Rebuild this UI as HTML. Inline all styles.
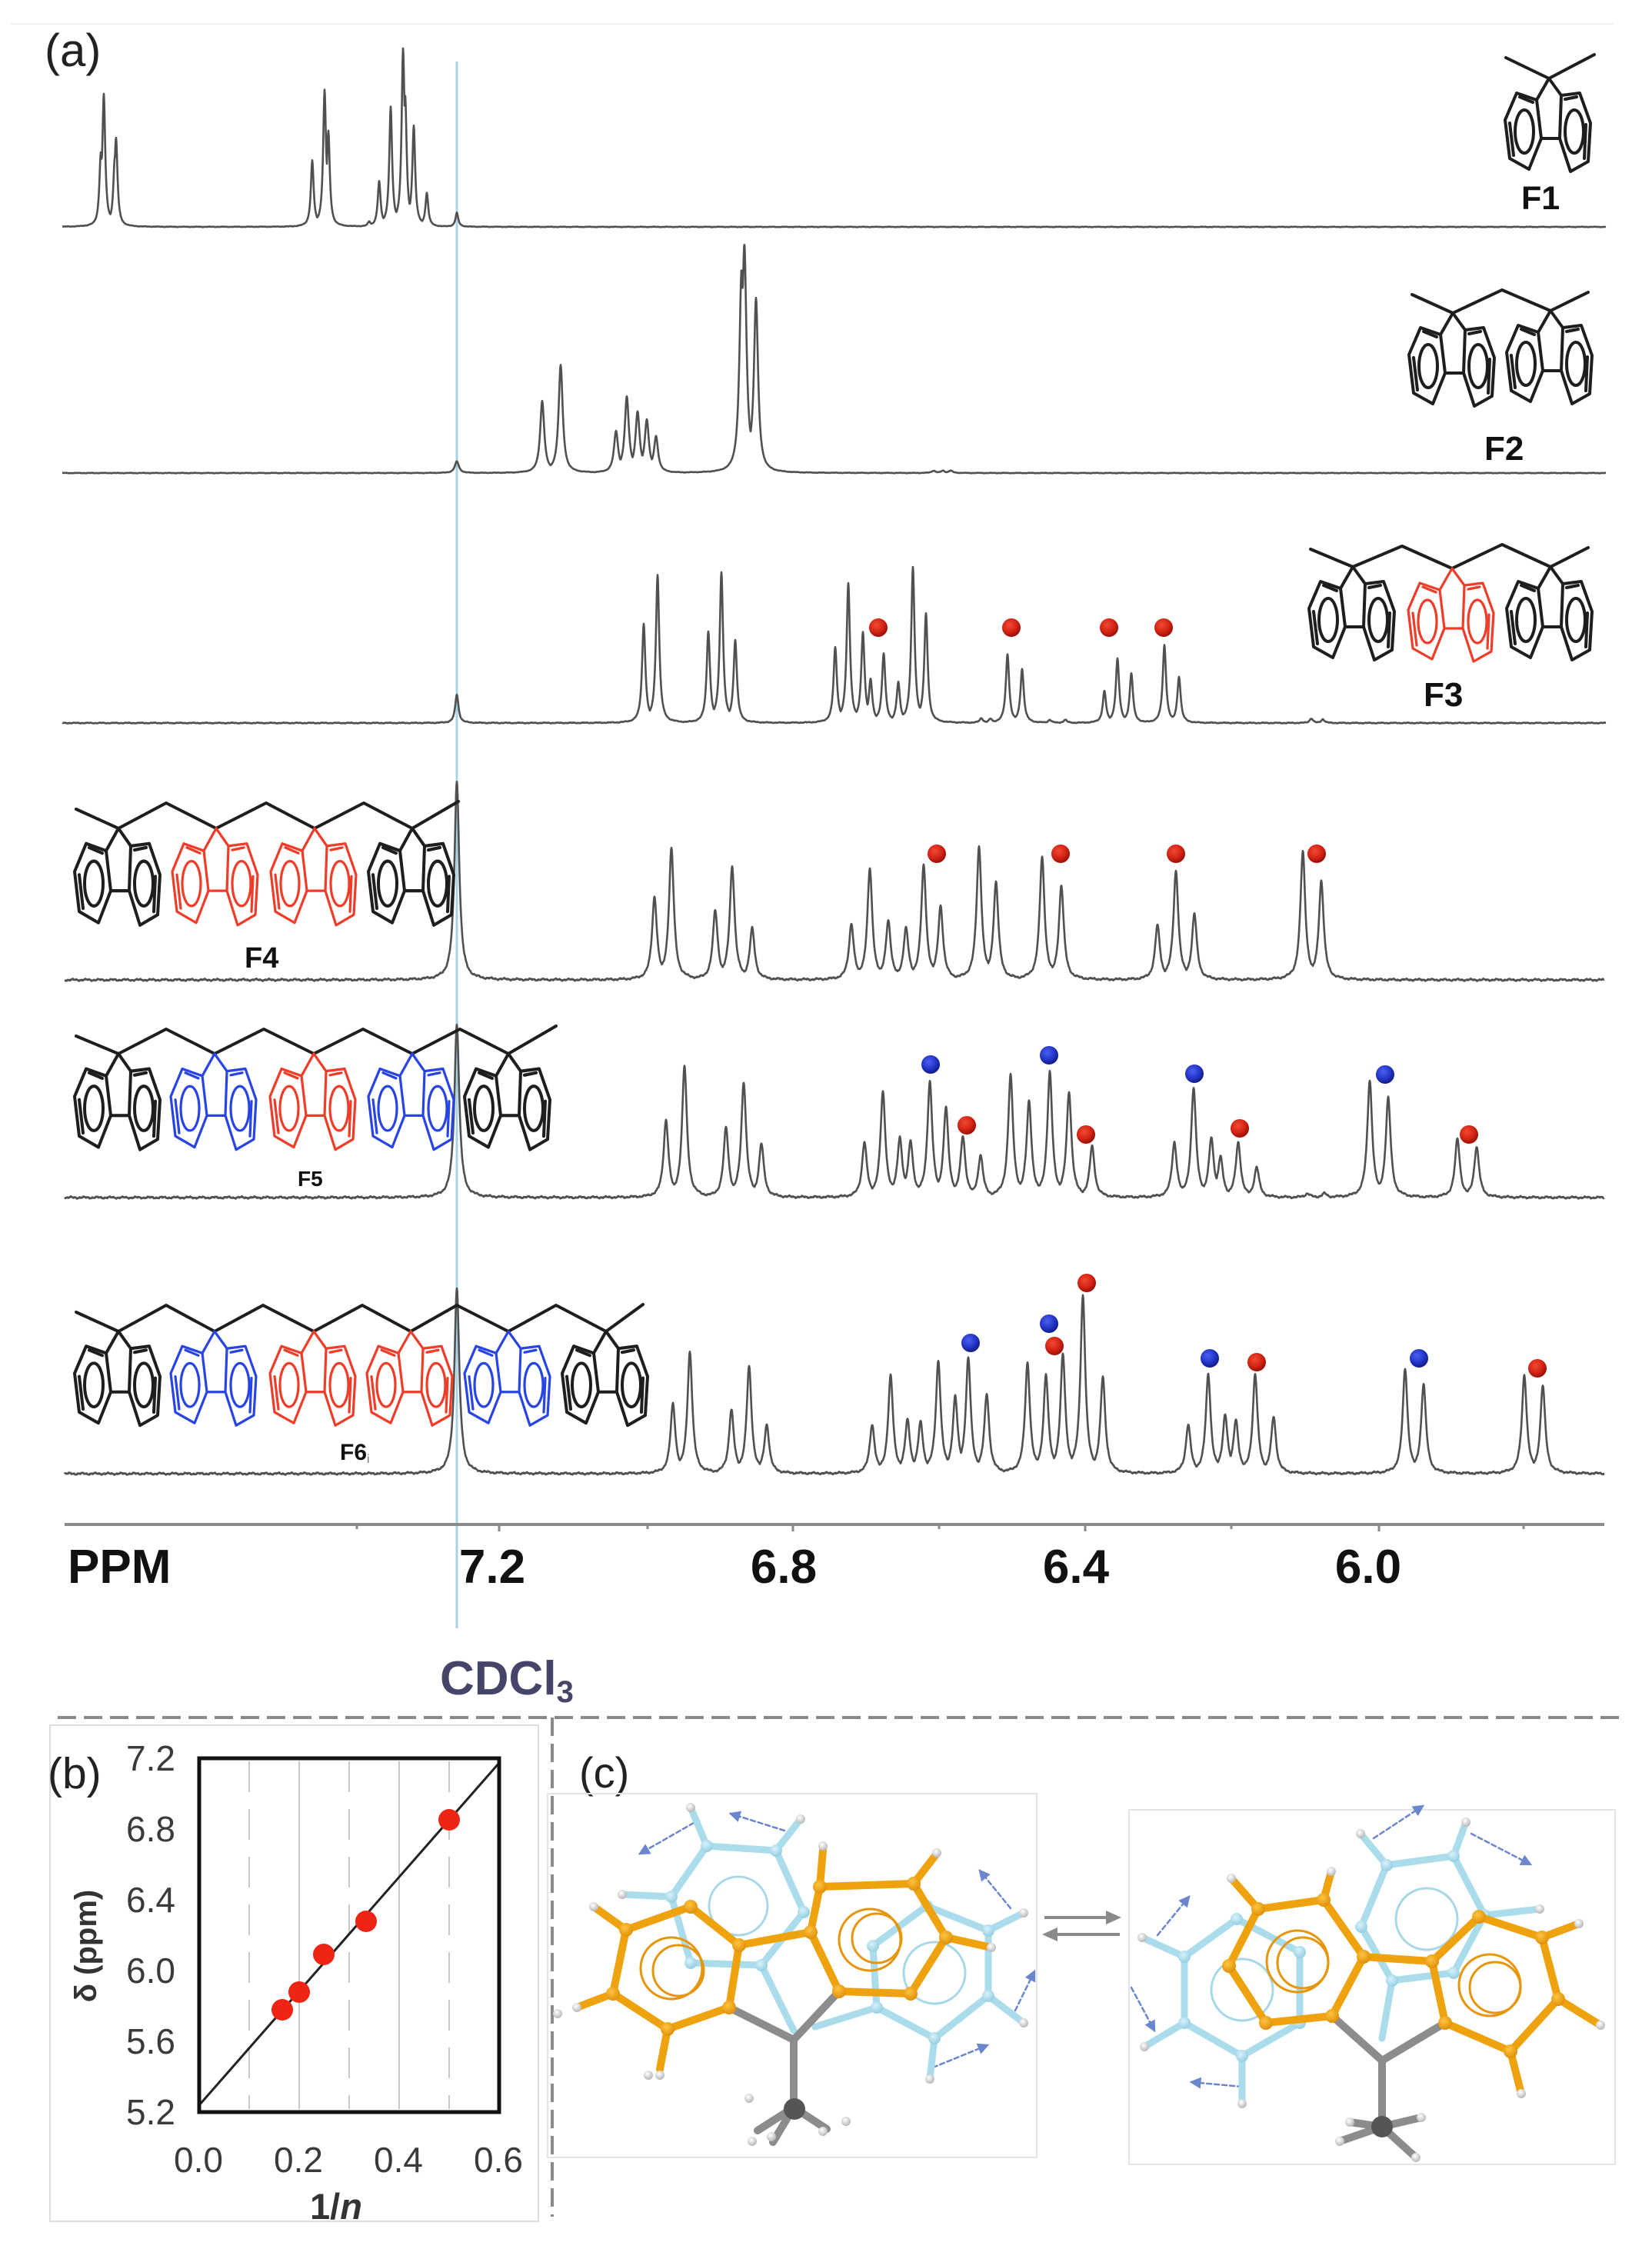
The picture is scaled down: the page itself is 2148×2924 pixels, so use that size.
<!DOCTYPE html>
<html><head><meta charset="utf-8"><style>
html,body{margin:0;padding:0;background:#fff;}
body{width:2148px;height:2924px;overflow:hidden;}
svg{display:block;font-family:"Liberation Sans",Arial,sans-serif;}
</style></head><body>
<svg width="2148" height="2924" viewBox="0 0 2148 2924" xmlns="http://www.w3.org/2000/svg">
<defs>
<g id="fl" fill="none" stroke-linejoin="round" stroke-linecap="round">
 <path d="M0,0 L-16,28 M0,0 L16,22"/>
 <path d="M-42,19 L-16,28 L-10,78 L-26,118 L-51,104 L-57,54 Z"/>
 <path d="M40,19 L16,22 L14,78 L28,121 L51,108 L54,58 Z"/>
 <path d="M-10,78 L14,78"/>
 <path d="M-51,58 L-46,100 M-38,24 L-21,31 M48,60 L46,104 M36,24 L21,27"/>
 <ellipse cx="-32" cy="69" rx="12" ry="28"/>
 <ellipse cx="33" cy="69" rx="12" ry="28"/>
</g>
<radialGradient id="rg" cx="40%" cy="35%" r="65%"><stop offset="0" stop-color="#f04a32"/><stop offset="0.6" stop-color="#d42414"/><stop offset="1" stop-color="#9a0f08"/></radialGradient>
<radialGradient id="bg" cx="40%" cy="35%" r="65%"><stop offset="0" stop-color="#4a60f0"/><stop offset="0.6" stop-color="#2436c8"/><stop offset="1" stop-color="#101c88"/></radialGradient>
<radialGradient id="og" cx="40%" cy="35%" r="65%"><stop offset="0" stop-color="#ffc540"/><stop offset="1" stop-color="#e0900a"/></radialGradient>
<radialGradient id="lg" cx="40%" cy="35%" r="65%"><stop offset="0" stop-color="#d8f2fa"/><stop offset="1" stop-color="#94cfe2"/></radialGradient>
<radialGradient id="hg" cx="40%" cy="35%" r="65%"><stop offset="0" stop-color="#ffffff"/><stop offset="1" stop-color="#b8b8b8"/></radialGradient>
<marker id="ah" markerWidth="6" markerHeight="6" refX="5" refY="3" orient="auto"><path d="M0,0 L6,3 L0,6 Z" fill="#6a86cc"/></marker>
</defs>

<line x1="14" y1="31" x2="2098" y2="31" stroke="#f0f0f0" stroke-width="2"/>

<text x="58" y="86" font-size="60" fill="#222">(a)</text>

<line x1="594" y1="80" x2="594" y2="2117" stroke="#a9d3e3" stroke-width="3"/>

<g fill="none" stroke="#505050" stroke-width="2.6" stroke-linejoin="round">
<path id="s1"/><path id="s2"/><path id="s3"/><path id="s4"/><path id="s5"/><path id="s6"/>
</g>

<g>
<circle cx="1142" cy="816" r="12" fill="url(#rg)"/>
<circle cx="1315" cy="816" r="12" fill="url(#rg)"/>
<circle cx="1442" cy="816" r="12" fill="url(#rg)"/>
<circle cx="1513" cy="816" r="12" fill="url(#rg)"/>
<circle cx="1218" cy="1110" r="12" fill="url(#rg)"/>
<circle cx="1379" cy="1110" r="12" fill="url(#rg)"/>
<circle cx="1529" cy="1110" r="12" fill="url(#rg)"/>
<circle cx="1712" cy="1110" r="12" fill="url(#rg)"/>
<circle cx="1210" cy="1384" r="12" fill="url(#bg)"/>
<circle cx="1364" cy="1372" r="12" fill="url(#bg)"/>
<circle cx="1553" cy="1396" r="12" fill="url(#bg)"/>
<circle cx="1801" cy="1397" r="12" fill="url(#bg)"/>
<circle cx="1257" cy="1463" r="12" fill="url(#rg)"/>
<circle cx="1412" cy="1475" r="12" fill="url(#rg)"/>
<circle cx="1612" cy="1467" r="12" fill="url(#rg)"/>
<circle cx="1910" cy="1475" r="12" fill="url(#rg)"/>
<circle cx="1262" cy="1746" r="12" fill="url(#bg)"/>
<circle cx="1364" cy="1721" r="12" fill="url(#bg)"/>
<circle cx="1573" cy="1766" r="12" fill="url(#bg)"/>
<circle cx="1845" cy="1766" r="12" fill="url(#bg)"/>
<circle cx="1371" cy="1750" r="12" fill="url(#rg)"/>
<circle cx="1413" cy="1668" r="12" fill="url(#rg)"/>
<circle cx="1634" cy="1771" r="12" fill="url(#rg)"/>
<circle cx="1999" cy="1779" r="12" fill="url(#rg)"/>
</g>

<g fill="none" stroke="#1e1e1e" stroke-width="4" stroke-linejoin="round" stroke-linecap="round">
<polyline points="1958,75 2014,102 2073,71"/>
<polyline points="1836,383 1889,407 1953,377 2016,404 2065,380"/>
<polyline points="1704,714 1759,737 1823,710 1888,739 1953,708 2016,737 2065,712"/>
<polyline points="99,1052 154,1077 216,1044 281,1077 346,1044 409,1077 473,1044 536,1077 596,1042"/>
<polyline points="99,1347 154,1370 216,1338 279,1370 343,1338 408,1370 472,1338 536,1370 598,1338 661,1370 723,1334"/>
<polyline points="99,1706 154,1731 216,1697 279,1731 342,1697 408,1731 471,1697 534,1731 594,1697 661,1731 723,1697 788,1731 836,1696"/>
</g>
<g stroke-width="4">
<use href="#fl" x="2014" y="102" stroke="#1e1e1e"/>
<use href="#fl" x="1889" y="407" stroke="#1e1e1e"/>
<use href="#fl" x="2016" y="404" stroke="#1e1e1e"/>
<use href="#fl" x="1759" y="737" stroke="#1e1e1e"/>
<use href="#fl" x="1888" y="739" stroke="#f03c28" stroke-width="3.2"/>
<use href="#fl" x="2016" y="737" stroke="#1e1e1e"/>
</g>
<g stroke-width="4">
<use href="#fl" transform="translate(154,1077) scale(1,1.04)" stroke="#1e1e1e"/>
<use href="#fl" transform="translate(281,1077) scale(1,1.04)" stroke="#f03c28" stroke-width="3.2"/>
<use href="#fl" transform="translate(409,1077) scale(1,1.04)" stroke="#f03c28" stroke-width="3.2"/>
<use href="#fl" transform="translate(536,1077) scale(1,1.04)" stroke="#1e1e1e"/>

<use href="#fl" transform="translate(154,1370) scale(1,1.03)" stroke="#1e1e1e"/>
<use href="#fl" transform="translate(279,1370) scale(1,1.03)" stroke="#2844e6" stroke-width="3.2"/>
<use href="#fl" transform="translate(408,1370) scale(1,1.03)" stroke="#f03c28" stroke-width="3.2"/>
<use href="#fl" transform="translate(536,1370) scale(1,1.03)" stroke="#2844e6" stroke-width="3.2"/>
<use href="#fl" transform="translate(661,1370) scale(1,1.03)" stroke="#1e1e1e"/>

<use href="#fl" transform="translate(154,1731) scale(1,1.01)" stroke="#1e1e1e"/>
<use href="#fl" transform="translate(279,1731) scale(1,1.01)" stroke="#2844e6" stroke-width="3.2"/>
<use href="#fl" transform="translate(408,1731) scale(1,1.01)" stroke="#f03c28" stroke-width="3.2"/>
<use href="#fl" transform="translate(534,1731) scale(1,1.01)" stroke="#f03c28" stroke-width="3.2"/>
<use href="#fl" transform="translate(661,1731) scale(1,1.01)" stroke="#2844e6" stroke-width="3.2"/>
<use href="#fl" transform="translate(788,1731) scale(1,1.01)" stroke="#1e1e1e"/>
</g>

<g font-weight="bold" fill="#111">
<text x="1978" y="272" font-size="43">F1</text>
<text x="1930" y="598" font-size="44">F2</text>
<text x="1851" y="918" font-size="44">F3</text>
<text x="318" y="1258" font-size="38">F4</text>
<text x="387" y="1542" font-size="28">F5</text>
<text x="442" y="1898" font-size="30">F6<tspan font-size="16" font-weight="normal" fill="#777" dy="4">i</tspan></text>
</g>

<line x1="84" y1="1982" x2="2086" y2="1982" stroke="#8a8a8a" stroke-width="4"/>
<g stroke="#8a8a8a" stroke-width="3">
<line x1="649" y1="1982" x2="649" y2="1991"/><line x1="1031" y1="1982" x2="1031" y2="1991"/>
<line x1="1411" y1="1982" x2="1411" y2="1991"/><line x1="1793" y1="1982" x2="1793" y2="1991"/>
<line x1="464" y1="1982" x2="464" y2="1988"/><line x1="842" y1="1982" x2="842" y2="1988"/>
<line x1="1221" y1="1982" x2="1221" y2="1988"/><line x1="1601" y1="1982" x2="1601" y2="1988"/>
<line x1="1981" y1="1982" x2="1981" y2="1988"/>
</g>
<g font-weight="bold" font-size="62" fill="#111">
<text x="88" y="2058">PPM</text>
<text x="640" y="2058" text-anchor="middle">7.2</text>
<text x="1019" y="2058" text-anchor="middle">6.8</text>
<text x="1399" y="2058" text-anchor="middle">6.4</text>
<text x="1779" y="2058" text-anchor="middle">6.0</text>
</g>
<text x="572" y="2203" font-size="62" font-weight="bold" fill="#45456a">CDCl<tspan font-size="40" dy="10">3</tspan></text>

<g stroke="#8a8a8a" stroke-width="4" stroke-dasharray="24 10">
<line x1="75" y1="2233" x2="2112" y2="2233"/>
<line x1="718" y1="2233" x2="718" y2="2882"/>
</g>

<rect x="65" y="2243" width="635" height="645" fill="none" stroke="#dedede" stroke-width="2"/>
<text x="62" y="2325" font-size="57" fill="#222">(b)</text>
<g stroke="#c8c8c8" stroke-width="2">
<line x1="324" y1="2290" x2="324" y2="2742" stroke-dasharray="40 22"/>
<line x1="389" y1="2290" x2="389" y2="2742"/>
<line x1="454" y1="2290" x2="454" y2="2742" stroke-dasharray="40 22"/>
<line x1="519" y1="2290" x2="519" y2="2742"/>
<line x1="584" y1="2290" x2="584" y2="2742" stroke-dasharray="40 22"/>
</g>
<line x1="259" y1="2737" x2="649" y2="2292" stroke="#222" stroke-width="3"/>
<rect x="259" y="2286" width="390" height="460" fill="none" stroke="#111" stroke-width="5"/>
<g fill="#f02414">
<circle cx="367" cy="2613" r="14"/>
<circle cx="389" cy="2590" r="14"/>
<circle cx="421" cy="2541" r="14"/>
<circle cx="476" cy="2498" r="14"/>
<circle cx="584" cy="2366" r="14"/>
</g>
<g font-size="46" fill="#3a3a3a">
<text x="228" y="2302" text-anchor="end">7.2</text>
<text x="228" y="2394" text-anchor="end">6.8</text>
<text x="228" y="2486" text-anchor="end">6.4</text>
<text x="228" y="2578" text-anchor="end">6.0</text>
<text x="228" y="2670" text-anchor="end">5.6</text>
<text x="228" y="2762" text-anchor="end">5.2</text>
<text x="258" y="2824" text-anchor="middle">0.0</text>
<text x="388" y="2824" text-anchor="middle">0.2</text>
<text x="518" y="2824" text-anchor="middle">0.4</text>
<text x="648" y="2824" text-anchor="middle">0.6</text>
</g>
<text x="437" y="2885" font-size="47" font-weight="bold" fill="#333" text-anchor="middle">1/<tspan font-style="italic">n</tspan></text>
<text x="125" y="2530" font-size="40" font-weight="bold" fill="#333" text-anchor="middle" transform="rotate(-90 125 2530)">δ (ppm)</text>

<text x="753" y="2324" font-size="56" fill="#222">(c)</text>
<rect x="712" y="2332" width="636" height="473" fill="none" stroke="#e4e4e4" stroke-width="2"/>
<rect x="1468" y="2353" width="632" height="461" fill="none" stroke="#e4e4e4" stroke-width="2"/>
<g fill="#8a8a8a" stroke="#8a8a8a" stroke-width="4">
<line x1="1358" y1="2493" x2="1440" y2="2493"/><path d="M1458,2493 L1438,2484 L1438,2502 Z" stroke="none"/>
<line x1="1373" y1="2515" x2="1456" y2="2515"/><path d="M1355,2515 L1375,2506 L1375,2524 Z" stroke="none"/>
</g>

<g stroke-linecap="round" stroke-linejoin="round">
 <g stroke="#6a86cc" stroke-width="2.5" stroke-dasharray="6 4" fill="none">
  <line x1="902" y1="2370" x2="832" y2="2410" marker-end="url(#ah)"/>
  <line x1="1020" y1="2380" x2="950" y2="2358" marker-end="url(#ah)"/>
  <line x1="1314" y1="2481" x2="1274" y2="2432" marker-end="url(#ah)"/>
  <line x1="1320" y1="2614" x2="1345" y2="2563" marker-end="url(#ah)"/>
  <line x1="1213" y1="2688" x2="1284" y2="2659" marker-end="url(#ah)"/>
 </g>
 <g stroke="#aadcec" stroke-width="9" fill="none">
  <path d="M919,2400 L1009,2406 L1045,2486 L990,2555 L898,2552 L873,2466 Z"/>
  <path d="M1285,2510 L1285,2595 L1215,2650 L1140,2610 L1135,2530 L1205,2478 Z"/>
  <path d="M990,2555 L1032,2640 M1140,2610 L1060,2635 M919,2400 L898,2350 M1009,2406 L1041,2365 M873,2466 L809,2463 M1285,2510 L1331,2487 M1285,2595 L1331,2630 M1215,2650 L1209,2703"/>
 </g>
 <g stroke="#a8d8e8" stroke-width="3" fill="none">
  <circle cx="960" cy="2478" r="38"/><circle cx="1215" cy="2565" r="40"/>
 </g>
 <g fill="url(#lg)">
  <circle cx="919" cy="2400" r="8"/><circle cx="1009" cy="2406" r="8"/><circle cx="1045" cy="2486" r="8"/><circle cx="990" cy="2555" r="8"/><circle cx="898" cy="2552" r="8"/><circle cx="873" cy="2466" r="8"/>
  <circle cx="1285" cy="2510" r="8"/><circle cx="1285" cy="2595" r="8"/><circle cx="1215" cy="2650" r="8"/><circle cx="1140" cy="2610" r="8"/><circle cx="1135" cy="2530" r="8"/><circle cx="1205" cy="2478" r="8"/>
 </g>
 <g stroke="#8c8c8c" stroke-width="10" fill="none">
  <path d="M948,2610 L1032,2652 L1091,2589 M1032,2652 L1032,2735 M1032,2740 L985,2770 M1032,2740 L1075,2768 M1032,2740 L1005,2785"/>
 </g>
 <circle cx="1033" cy="2742" r="14" fill="#555"/>
 <g stroke="#eea20e" stroke-width="10" fill="none">
  <path d="M814,2509 L898,2479 L961,2529 L948,2610 L868,2638 L797,2592 Z"/>
  <path d="M1066,2453 L1188,2449 L1230,2519 L1184,2592 L1091,2589 L1054,2512 Z"/>
  <path d="M961,2529 L1054,2512 M797,2592 L750,2610 M868,2638 L858,2690 M814,2509 L772,2479 M1066,2453 L1070,2405 M1188,2449 L1218,2410 M1230,2519 L1289,2532"/>
 </g>
 <g stroke="#e5960c" stroke-width="3" fill="none">
  <circle cx="873" cy="2559" r="40"/><circle cx="882" cy="2562" r="33"/>
  <circle cx="1131" cy="2522" r="40"/><circle cx="1140" cy="2520" r="32"/>
 </g>
 <g fill="url(#og)">
  <circle cx="814" cy="2509" r="9"/><circle cx="898" cy="2479" r="9"/><circle cx="961" cy="2529" r="9"/><circle cx="948" cy="2610" r="9"/><circle cx="868" cy="2638" r="9"/><circle cx="797" cy="2592" r="9"/>
  <circle cx="1066" cy="2453" r="9"/><circle cx="1188" cy="2449" r="9"/><circle cx="1230" cy="2519" r="9"/><circle cx="1184" cy="2592" r="9"/><circle cx="1091" cy="2589" r="9"/><circle cx="1054" cy="2512" r="9"/>
 </g>
 <g fill="url(#hg)">
  <circle cx="898" cy="2350" r="6"/><circle cx="1041" cy="2365" r="6"/><circle cx="809" cy="2463" r="6"/><circle cx="772" cy="2479" r="6"/>
  <circle cx="1331" cy="2487" r="6"/><circle cx="1331" cy="2630" r="6"/><circle cx="1209" cy="2703" r="6"/><circle cx="843" cy="2698" r="6"/>
  <circle cx="858" cy="2698" r="6"/><circle cx="725" cy="2618" r="6"/><circle cx="750" cy="2610" r="6"/><circle cx="1070" cy="2400" r="6"/><circle cx="1218" cy="2409" r="6"/>
  <circle cx="1289" cy="2532" r="6"/><circle cx="974" cy="2728" r="6"/><circle cx="978" cy="2784" r="6"/><circle cx="1070" cy="2771" r="6"/><circle cx="1100" cy="2758" r="6"/><circle cx="1003" cy="2778" r="6"/>
 </g>
</g>

<g stroke-linecap="round" stroke-linejoin="round">
 <g stroke="#6a86cc" stroke-width="2.5" stroke-dasharray="6 4" fill="none">
  <line x1="1786" y1="2390" x2="1850" y2="2348" marker-end="url(#ah)"/>
  <line x1="1913" y1="2384" x2="1990" y2="2424" marker-end="url(#ah)"/>
  <line x1="1505" y1="2516" x2="1546" y2="2466" marker-end="url(#ah)"/>
  <line x1="1471" y1="2584" x2="1501" y2="2640" marker-end="url(#ah)"/>
  <line x1="1615" y1="2713" x2="1549" y2="2707" marker-end="url(#ah)"/>
 </g>
 <g stroke="#aadcec" stroke-width="9" fill="none">
  <path d="M1803,2425 L1890,2413 L1930,2490 L1890,2565 L1810,2575 L1770,2505 Z"/>
  <path d="M1540,2544 L1608,2495 L1690,2538 L1690,2630 L1615,2673 L1540,2630 Z"/>
  <path d="M1803,2425 L1769,2384 M1890,2413 L1906,2369 M1540,2544 L1485,2519 M1540,2630 L1488,2661 M1615,2673 L1615,2735 M1810,2575 L1797,2650 M1930,2490 L2002,2482"/>
 </g>
 <g stroke="#a8d8e8" stroke-width="3" fill="none">
  <circle cx="1855" cy="2495" r="40"/><circle cx="1615" cy="2587" r="40"/>
 </g>
 <g fill="url(#lg)">
  <circle cx="1803" cy="2425" r="8"/><circle cx="1890" cy="2413" r="8"/><circle cx="1930" cy="2490" r="8"/><circle cx="1890" cy="2565" r="8"/><circle cx="1810" cy="2575" r="8"/><circle cx="1770" cy="2505" r="8"/>
  <circle cx="1540" cy="2544" r="8"/><circle cx="1608" cy="2495" r="8"/><circle cx="1690" cy="2538" r="8"/><circle cx="1690" cy="2630" r="8"/><circle cx="1615" cy="2673" r="8"/><circle cx="1540" cy="2630" r="8"/>
 </g>
 <g stroke="#8c8c8c" stroke-width="10" fill="none">
  <path d="M1732,2621 L1797,2679 L1879,2630 M1797,2679 L1797,2760 M1797,2765 L1742,2784 M1797,2765 L1841,2805 M1797,2765 L1848,2753 M1797,2765 L1755,2759"/>
 </g>
 <circle cx="1797" cy="2765" r="14" fill="#555"/>
 <g stroke="#eea20e" stroke-width="10" fill="none">
  <path d="M1636,2482 L1721,2470 L1773,2544 L1732,2621 L1646,2630 L1598,2556 Z"/>
  <path d="M1923,2492 L2005,2519 L2026,2599 L1964,2667 L1879,2630 L1862,2550 Z"/>
  <path d="M1773,2544 L1862,2550 M1636,2482 L1601,2442 M1721,2470 L1731,2433 M2005,2519 L2053,2501 M2026,2599 L2081,2633 M1964,2667 L1978,2722"/>
 </g>
 <g stroke="#e5960c" stroke-width="3" fill="none">
  <circle cx="1687" cy="2550" r="40"/><circle cx="1694" cy="2552" r="33"/>
  <circle cx="1937" cy="2581" r="40"/><circle cx="1944" cy="2584" r="33"/>
 </g>
 <g fill="url(#og)">
  <circle cx="1636" cy="2482" r="9"/><circle cx="1721" cy="2470" r="9"/><circle cx="1773" cy="2544" r="9"/><circle cx="1732" cy="2621" r="9"/><circle cx="1646" cy="2630" r="9"/><circle cx="1598" cy="2556" r="9"/>
  <circle cx="1923" cy="2492" r="9"/><circle cx="2005" cy="2519" r="9"/><circle cx="2026" cy="2599" r="9"/><circle cx="1964" cy="2667" r="9"/><circle cx="1879" cy="2630" r="9"/><circle cx="1862" cy="2550" r="9"/>
 </g>
 <g fill="url(#hg)">
  <circle cx="1769" cy="2384" r="6"/><circle cx="1906" cy="2369" r="6"/><circle cx="1485" cy="2519" r="6"/><circle cx="1488" cy="2661" r="6"/>
  <circle cx="1615" cy="2735" r="6"/><circle cx="1978" cy="2722" r="6"/><circle cx="2081" cy="2633" r="6"/><circle cx="2053" cy="2501" r="6"/>
  <circle cx="1731" cy="2433" r="6"/><circle cx="1601" cy="2442" r="6"/><circle cx="2002" cy="2482" r="6"/>
  <circle cx="1742" cy="2784" r="6"/><circle cx="1841" cy="2805" r="6"/><circle cx="1848" cy="2753" r="6"/><circle cx="1755" cy="2759" r="6"/>
 </g>
</g>
</svg>
<script>
function nz(x,s){return Math.sin(x*0.37+s)*0.6+Math.sin(x*1.13+s*2.1)*0.45+Math.sin(x*2.71+s*0.7)*0.35;}
function build(id,base,g,x0,x1,na,seed,peaks){
  var d='';
  for(var x=x0;x<=x1;x+=0.5){
    var mx=0,sm=0;
    for(var i=0;i<peaks.length;i++){var p=peaks[i];var dx=(x-p[0])/g;var v=p[1]/(1+dx*dx);sm+=v;if(v>mx)mx=v;}
    var y=mx+0.3*(sm-mx)+na*nz(x,seed);
    d+=(x===x0?'M':'L')+x+','+(base-y).toFixed(1);
  }
  document.getElementById(id).setAttribute('d',d);
}
build('s1',295,2.2,81,2088,0.3,1,[[131,85],[135,166],[149,70],[151,103],[406,85],[422,172],[427,116],[480,6],[493,58],[508,154],[524,215],[527,145],[538,128],[555,43],[594,18]]);
build('s2',615,3.2,81,2088,0.3,2,[[594,15],[705,93],[729,140],[801,53],[815,97],[829,77],[841,67],[853,46],[964,230],[968,267],[983,222],[1214,3],[1226,3],[1236,3]]);
build('s3',940,2.6,81,2088,0.5,3,[[594,37],[837,128],[855,192],[921,118],[938,195],[956,107],[1086,97],[1103,180],[1122,116],[1132,54],[1149,89],[1168,51],[1187,201],[1204,141],[1276,6],[1288,5],[1310,89],[1329,70],[1365,4],[1385,4],[1436,41],[1453,83],[1471,64],[1514,101],[1533,60],[1705,6],[1720,5]]);
build('s4',1274,3.8,84,2086,1.2,4,[[594,258],[851,107],[873,170],[930,89],[952,147],[978,66],[1107,72],[1131,143],[1155,76],[1178,66],[1201,147],[1223,95],[1273,172],[1295,126],[1355,159],[1380,122],[1505,70],[1529,141],[1553,85],[1694,166],[1718,128]]);
build('s5',1557,3.8,84,2086,1.2,5,[[594,226],[866,100],[890,170],[944,90],[967,149],[990,69],[1124,71],[1148,136],[1170,76],[1184,71],[1209,149],[1230,115],[1252,78],[1275,54],[1314,158],[1338,124],[1365,161],[1390,136],[1420,66],[1527,71],[1552,141],[1575,76],[1587,50],[1610,71],[1634,39],[1700,5],[1722,5],[1781,152],[1805,129],[1895,76],[1920,66]]);
build('s6',1916,3.8,84,2086,1.2,6,[[594,242],[875,90],[897,158],[951,82],[974,138],[997,63],[1134,63],[1158,126],[1180,68],[1197,65],[1220,145],[1242,97],[1259,148],[1283,102],[1336,143],[1360,126],[1382,153],[1408,230],[1434,124],[1545,63],[1571,128],[1593,75],[1607,68],[1632,128],[1656,73],[1827,136],[1851,116],[1982,128],[2006,114]]);
</script>
</body></html>
